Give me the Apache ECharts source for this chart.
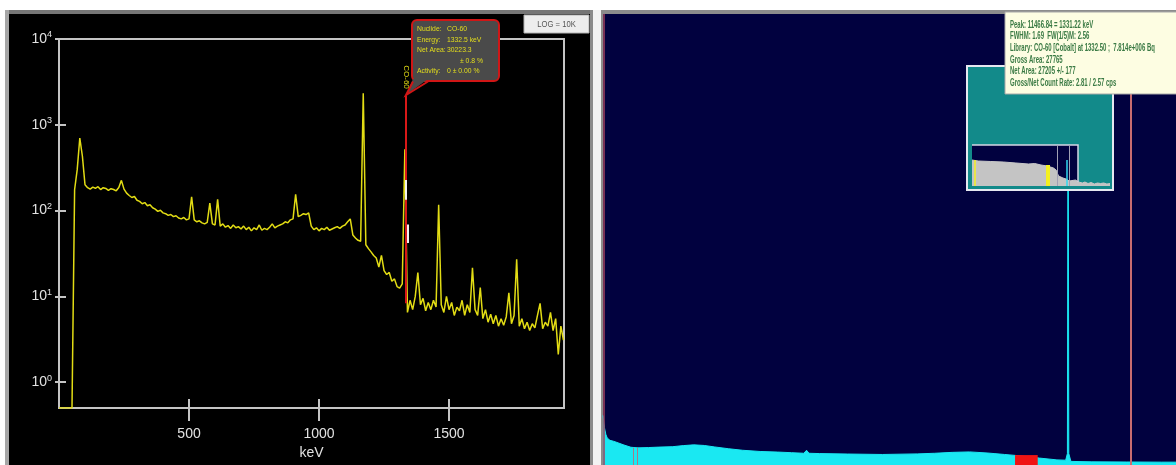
<!DOCTYPE html>
<html>
<head>
<meta charset="utf-8">
<script src="https://cdn.jsdelivr.net/npm/echarts@6/dist/echarts.min.js"></script>
<style>
  html, body { margin: 0; padding: 0; background: #ffffff; }
  #chart { width: 1176px; height: 465px; }
</style>
</head>
<body>
<div id="chart"></div>
<script>
// ---- Left panel: NaI spectrum, counts per 10 keV bin (log scale) ----
const energyStepKeV = 10;
const spectrumCounts = [
  0.5, 0.5, 0.5, 0.5, 0.5, 0.5, 175, 300, 700, 430,          // 0 - 90
  200, 185, 178, 188, 182, 190, 176, 185, 181, 172,          // 100 - 190
  180, 176, 170, 186, 225, 178, 160, 150, 142, 146,          // 200 - 290
  132, 128, 120, 124, 114, 117, 108, 104, 98, 101,           // 300 - 390
  94, 92, 88, 90, 85, 87, 82, 80, 83, 78,                    // 400 - 490
  80, 145, 78, 74, 76, 72, 70, 73, 122, 70,                  // 500 - 590
  68, 135, 66, 70, 64, 67, 62, 68, 63, 65,                   // 600 - 690
  61, 66, 60, 64, 58, 63, 60, 68, 59, 62,                    // 700 - 790
  60, 64, 70, 63, 66, 68, 70, 74, 72, 78,                    // 800 - 890
  80, 155, 85, 88, 92, 90, 94, 66, 60, 63,                   // 900 - 990
  58, 62, 60, 64, 59, 61, 63, 65, 62, 66,                    // 1000 - 1090
  68, 74, 80, 52, 48, 45, 44, 2330, 40, 36,                  // 1100 - 1190
  33, 30, 28, 22, 30, 20, 18, 19, 15, 16,                    // 1200 - 1290
  13, 12.5, 14, 520, 6.5, 9, 7, 10, 19, 8,                   // 1300 - 1390
  9.5, 6.8, 8.5, 7, 9, 7.5, 117, 8, 6.5, 10,                 // 1400 - 1490
  7, 8.5, 6, 7.5, 6.8, 9, 6, 8, 6.5, 21.5,                   // 1500 - 1590
  7, 6, 12.7, 5.5, 7, 5, 6.2, 4.8, 6, 4.5,                   // 1600 - 1690
  5.5, 4.6, 5.8, 11, 4.8, 6, 27, 4.5, 5.5, 4.2,              // 1700 - 1790
  5, 4, 4.8, 4.3, 6, 8.3, 4.2, 5, 4.5, 6.5,                  // 1800 - 1890
  4, 5.5, 2.1, 4.5, 3.1                                      // 1900 - 1940
];
const xTickValues = [500, 1000, 1500];
const yTickValues = [1, 10, 100, 1000, 10000];

// CO-60 marker on the 1332 keV line
const markerKeV = 1332.5;
const markerCountRange = [8.3, 2200];
const roiSegments = [
  { keV: 1333, range: [134, 228] },
  { keV: 1342, range: [42, 69] }
];

// ---- Right panel: HPGe spectrum (linear scale) ----
const hpgeKeV = [0, 4, 8, 12, 16, 20, 30, 40, 60, 80, 100, 130, 160, 200, 230, 260, 290, 320,
  360, 400, 450, 500, 540, 575, 583, 590, 620, 700, 800, 900, 950, 1000, 1050, 1100, 1120,
  1150, 1180, 1250, 1300, 1325, 1330, 1332, 1334, 1340, 1400, 1500, 1600, 1641];
const hpgeCounts = [330, 250, 205, 180, 170, 164, 158, 150, 133, 118, 114, 116, 119, 122, 129, 134, 130, 120,
  108, 98, 90, 86, 82, 78, 98, 78, 76, 73, 70, 74, 78, 84, 87, 80, 76,
  70, 64, 46, 34, 32, 76, 2950, 76, 24, 21, 20, 19, 19];
const roiKeV = [1180, 1245];
const roiCounts = [66, 66];
const cursorKeV = 1512;
const edgeMarkerKeV = 1;
const lowRoiKeV = [86, 97];

// ---- Overview thumbnail ----
const overviewKeV = [0, 100, 300, 500, 700, 900, 1000, 1100, 1200, 1300, 1340, 1380, 1450, 1500,
  1550, 1650, 1700, 1760, 1800, 1850, 1900, 1950, 2000, 2050, 2100, 2150, 2200];
const overviewCounts = [26, 25, 24.5, 24, 23, 22, 22.5, 21, 20, 18, 16, 10, 8, 7,
  5, 6, 4, 3, 4, 2.5, 3.5, 2, 3, 2.5, 3, 2, 2.5];

const calloutLines = [
  ['Nuclide:', 'CO-60'],
  ['Energy:', '1332.5 keV'],
  ['Net Area:', '30223.3'],
  ['', '\u00b1 0.8 %'],
  ['Activity:', '0 \u00b1 0.00 %']
];
const peakInfoLines = [
  'Peak: 11466.84 = 1331.22 keV',
  'FWHM: 1.69  FW(1/5)M: 2.56',
  'Library: CO-60 [Cobalt] at 1332.50 ;  7.814e+006 Bq',
  'Gross Area: 27765',
  'Net Area: 27205 +/- 177',
  'Gross/Net Count Rate: 2.81 / 2.57 cps'
];

const FONT = 'Liberation Sans, Arial, sans-serif';
const AXIS_GRAY = '#c4c4c4';
const YELLOW = '#e2dc14';

const chart = echarts.init(document.getElementById('chart'), null, { renderer: 'canvas' });

const spectrumData = spectrumCounts.map((c, i) => [i * energyStepKeV, c]);

const logLabel = v => '{n|10}{s|' + Math.round(Math.log10(v)) + '}';

const option = {
  animation: false,
  backgroundColor: '#ffffff',
  grid: [
    { left: 59, top: 39, right: 612, bottom: 52, show: true, borderColor: AXIS_GRAY, borderWidth: 2, backgroundColor: 'transparent' },
    { left: 603, top: 14, right: 0, bottom: 0 },
    { left: 972, top: 145, width: 138, height: 41 }
  ],
  xAxis: [
    {
      gridIndex: 0, type: 'value', min: 0, max: 1942, position: 'bottom',
      axisLine: { onZero: false, lineStyle: { color: AXIS_GRAY, width: 2 } },
      axisTick: { customValues: xTickValues, length: 13, lineStyle: { color: AXIS_GRAY, width: 2 } },
      axisLabel: { customValues: xTickValues, formatter: v => String(v), color: '#e2e2e2', fontSize: 14, fontFamily: FONT, margin: 19 },
      splitLine: { show: false },
      name: 'keV', nameLocation: 'middle', nameGap: 38,
      nameTextStyle: { color: '#e2e2e2', fontSize: 14, fontFamily: FONT }
    },
    {
      gridIndex: 0, type: 'value', min: 0, max: 1942, position: 'bottom',
      axisLine: { show: false, onZero: false },
      axisTick: { customValues: xTickValues, inside: true, length: 9, lineStyle: { color: AXIS_GRAY, width: 2 } },
      axisLabel: { show: false }, splitLine: { show: false }
    },
    { gridIndex: 1, type: 'value', min: 0, max: 1641, show: false },
    { gridIndex: 2, type: 'value', min: 0, max: 2200, show: false }
  ],
  yAxis: [
    {
      gridIndex: 0, type: 'log', logBase: 10, min: 0.5, max: 10000, position: 'left',
      axisLine: { lineStyle: { color: AXIS_GRAY, width: 2 } },
      axisTick: { customValues: yTickValues, length: 4, lineStyle: { color: AXIS_GRAY, width: 2 } },
      axisLabel: {
        customValues: yTickValues, margin: 7, formatter: logLabel,
        rich: {
          n: { color: '#e2e2e2', fontSize: 14, fontFamily: FONT },
          s: { color: '#e2e2e2', fontSize: 9, fontFamily: FONT, padding: [0, 0, 8, 0] }
        }
      },
      splitLine: { show: false }
    },
    {
      gridIndex: 0, type: 'log', logBase: 10, min: 0.5, max: 10000, position: 'left',
      axisLine: { show: false },
      axisTick: { customValues: yTickValues, inside: true, length: 7, lineStyle: { color: AXIS_GRAY, width: 2 } },
      axisLabel: { show: false }, splitLine: { show: false }
    },
    { gridIndex: 1, type: 'value', min: 0, max: 3000, show: false },
    { gridIndex: 2, type: 'value', min: 0, max: 41, show: false }
  ],
  series: [
    {
      name: 'NaI spectrum', type: 'line', xAxisIndex: 0, yAxisIndex: 0,
      data: spectrumData, showSymbol: false, symbol: 'none', z: 3,
      lineStyle: { color: YELLOW, width: 1.5 },
      markLine: {
        silent: true, symbol: 'none', label: { show: false }, animation: false, z: 6,
        data: [
          [
            { coord: [markerKeV, markerCountRange[0]], lineStyle: { color: '#d81818', width: 2, type: 'solid' } },
            { coord: [markerKeV, markerCountRange[1]] }
          ],
          ...roiSegments.map(s => [
            { coord: [s.keV, s.range[0]], lineStyle: { color: '#f2f2f2', width: 2, type: 'solid' } },
            { coord: [s.keV, s.range[1]] }
          ])
        ]
      }
    },
    {
      name: 'HPGe spectrum', type: 'line', xAxisIndex: 2, yAxisIndex: 2,
      data: hpgeKeV.map((k, i) => [k, hpgeCounts[i]]), showSymbol: false, symbol: 'none', z: 2,
      lineStyle: { color: '#1ae8f2', width: 1 },
      areaStyle: { color: '#1ae8f2', opacity: 1 },
      markLine: {
        silent: true, symbol: 'none', label: { show: false }, animation: false, z: 5,
        data: [
          { xAxis: cursorKeV, lineStyle: { color: '#c86c70', width: 2, type: 'solid' } },
          { xAxis: edgeMarkerKeV, lineStyle: { color: '#a0405c', width: 1.5, type: 'solid' } },
          ...lowRoiKeV.map(k => [
            { coord: [k, 0], lineStyle: { color: '#a87a88', width: 1, type: 'solid' } },
            { coord: [k, 115] }
          ])
        ]
      }
    },
    {
      name: 'ROI', type: 'line', xAxisIndex: 2, yAxisIndex: 2,
      data: roiKeV.map((k, i) => [k, roiCounts[i]]), showSymbol: false, symbol: 'none', z: 3,
      lineStyle: { color: '#f01414', width: 0 },
      areaStyle: { color: '#f01414', opacity: 1 }
    },
    {
      name: 'Overview', type: 'line', xAxisIndex: 3, yAxisIndex: 3,
      data: overviewKeV.map((k, i) => [k, overviewCounts[i]]), showSymbol: false, symbol: 'none', z: 30,
      lineStyle: { color: '#c8c8c8', width: 1 },
      areaStyle: { color: '#c4c4c4', opacity: 1 },
      markLine: {
        silent: true, symbol: 'none', label: { show: false }, animation: false, z: 36,
        data: [
          [{ coord: [48, 0], lineStyle: { color: '#f4f020', width: 1.5, type: 'solid' } }, { coord: [48, 26] }],
          [{ coord: [1212, 0], lineStyle: { color: '#f4f020', width: 4, type: 'solid' } }, { coord: [1212, 21] }],
          [{ coord: [1355, 0], lineStyle: { color: '#a0a0b4', width: 1, type: 'solid' } }, { coord: [1355, 41] }],
          [{ coord: [1515, 0], lineStyle: { color: '#30d8f0', width: 1.5, type: 'solid' } }, { coord: [1515, 26] }],
          [{ coord: [1547, 0], lineStyle: { color: '#a0a0b4', width: 1, type: 'solid' } }, { coord: [1547, 41] }]
        ]
      }
    }
  ]
};

chart.setOption(option);

// Panels, frames and annotation boxes
function buildGraphics() {
  const tip = chart.convertToPixel({ xAxisIndex: 0, yAxisIndex: 0 }, [markerKeV, markerCountRange[1]]);
  const tx = Math.round(tip[0]), ty = Math.round(tip[1]);
  const boxX = tx + 6, boxY = ty - 75, boxW = 87, boxH = 61;
  const boxBottom = boxY + boxH;
  const els = [
    // left panel body and frame
    { type: 'rect', z: -10, shape: { x: 5, y: 10, width: 590, height: 455 }, style: { fill: '#000000' } },
    { type: 'rect', z: -9, shape: { x: 5, y: 10, width: 588, height: 4 }, style: { fill: '#767676' } },
    { type: 'rect', z: -9, shape: { x: 5, y: 10, width: 4, height: 455 }, style: { fill: '#a6a6a6' } },
    { type: 'rect', z: -9, shape: { x: 590, y: 10, width: 3, height: 455 }, style: { fill: '#8a8a8a' } },
    { type: 'rect', z: -9, shape: { x: 593, y: 10, width: 8, height: 455 }, style: { fill: '#f2f2f2' } },
    // right panel body and frame
    { type: 'rect', z: -10, shape: { x: 601, y: 10, width: 575, height: 455 }, style: { fill: '#8c8c8c' } },
    { type: 'rect', z: -9, shape: { x: 603, y: 14, width: 573, height: 451 }, style: { fill: '#01013f' } },
    // LOG button
    { type: 'rect', z: 40, shape: { x: 524, y: 15, width: 65, height: 18 }, style: { fill: '#ededed', stroke: '#b4b4b4', lineWidth: 1 } },
    { type: 'text', z: 41, x: 556.5, y: 24.5, scaleX: 0.85,
      style: { text: 'LOG = 10K', x: 0, y: 0, align: 'center', verticalAlign: 'middle', fontSize: 9, fontFamily: FONT, fill: '#555555' } },
    // CO-60 callout
    { type: 'rect', z: 40, shape: { x: boxX, y: boxY, width: boxW, height: boxH, r: 5 },
      style: { fill: '#4a4a4a', stroke: '#d01616', lineWidth: 2 } },
    { type: 'polygon', z: 41, shape: { points: [[tx + 7, boxBottom - 2], [tx, ty], [tx + 22, boxBottom - 2]] },
      style: { fill: '#4a4a4a' } },
    { type: 'polyline', z: 42, shape: { points: [[tx + 7, boxBottom + 0.5], [tx, ty], [tx + 22, boxBottom + 0.5]] },
      style: { stroke: '#d01616', lineWidth: 2, fill: null } },
    { type: 'text', z: 42, x: tx, y: ty - 18, rotation: -Math.PI / 2,
      style: { text: 'CO-60', x: 0, y: 0, align: 'center', verticalAlign: 'middle', fontSize: 8, fontFamily: FONT, fill: YELLOW } }
  ];
  calloutLines.forEach((row, i) => {
    const y = boxY + 9 + i * 10.5;
    if (row[0]) {
      els.push({ type: 'text', z: 43, x: boxX + 5, y: y, scaleX: 0.85,
        style: { text: row[0], x: 0, y: 0, verticalAlign: 'middle', fontSize: 8, fontFamily: FONT, fill: '#e4de1c' } });
    }
    els.push({ type: 'text', z: 43, x: boxX + (row[0] ? 35 : 48), y: y, scaleX: 0.85,
      style: { text: row[1], x: 0, y: 0, verticalAlign: 'middle', fontSize: 8, fontFamily: FONT, fill: '#e4de1c' } });
  });
  // overview thumbnail frame
  els.push(
    { type: 'rect', z: 20, shape: { x: 967, y: 66, width: 146, height: 124 }, style: { fill: '#128a8a', stroke: '#e6e8f0', lineWidth: 2 } },
    { type: 'rect', z: 21, shape: { x: 972, y: 145, width: 106, height: 37 }, style: { fill: '#01013f' } },
    { type: 'polyline', z: 35, shape: { points: [[972, 145], [1078, 145], [1078, 182]] }, style: { stroke: '#d4d6e4', lineWidth: 1.5, fill: null } }
  );
  // peak information box
  els.push({ type: 'rect', z: 50, shape: { x: 1005, y: 12, width: 176, height: 82 },
    style: { fill: '#fdfde2', stroke: '#a8a8a8', lineWidth: 1 } });
  peakInfoLines.forEach((t, i) => {
    els.push({ type: 'text', z: 51, x: 1010, y: 25 + i * 11.6, scaleX: 0.6,
      style: { text: t, x: 0, y: 0, verticalAlign: 'middle', fontSize: 10, fontWeight: 'bold', fontFamily: FONT, fill: '#3a7a44' } });
  });
  return els;
}

chart.setOption({ graphic: { elements: buildGraphics() } });
</script>
</body>
</html>
